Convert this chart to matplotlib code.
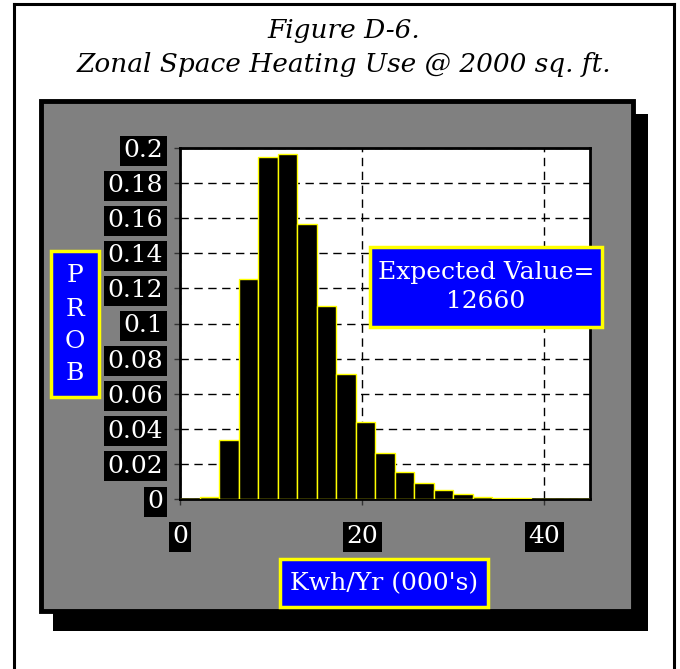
import matplotlib
matplotlib.use('Agg')
import matplotlib.pyplot as plt
from matplotlib.patches import Rectangle
from matplotlib.lines import Line2D

# histogram data (21 bins, 0..45 thousand kWh/yr)
bin_start = 0.0
bin_stop = 45.0
n_bins = 21
probs = [0.0002, 0.001, 0.0337, 0.1256, 0.1950, 0.1964, 0.1566, 0.1097,
         0.0710, 0.0437, 0.0262, 0.0154, 0.0089, 0.0051, 0.0028, 0.0013,
         0.0008, 0.0004, 0.0002, 0.0001, 0.0001]
y_ticks = [0, 0.02, 0.04, 0.06, 0.08, 0.1, 0.12, 0.14, 0.16, 0.18, 0.2]
y_tick_labels = ['0', '0.02', '0.04', '0.06', '0.08', '0.1', '0.12', '0.14', '0.16', '0.18', '0.2']
x_ticks = [0, 20, 40]
x_tick_labels = ['0', '20', '40']

W, H = 680, 669
fig = plt.figure(figsize=(W / 100, H / 100), dpi=100)
fig.patch.set_facecolor('white')


def fx(px):
    return px / W


def fy(py):
    return 1 - py / H


# outer frame
for xs, ys in [([14, 14], [4, H]), ([674, 674], [4, H]), ([14, 674], [4, 4])]:
    fig.add_artist(Line2D([fx(v) for v in xs], [fy(v) for v in ys], color='black', lw=2.2,
                          transform=fig.transFigure, zorder=-5))

# title
fig.text(fx(344), fy(38), 'Figure D-6.', ha='center', va='baseline',
         family='DejaVu Serif', style='italic', fontsize=19)
fig.text(fx(344), fy(72), 'Zonal Space Heating Use @ 2000 sq. ft.', ha='center', va='baseline',
         family='DejaVu Serif', style='italic', fontsize=19)

# shadow and gray panel
fig.add_artist(Rectangle((fx(53), fy(631)), fx(648 - 53), (631 - 114) / H,
                         facecolor='black', edgecolor='none', transform=fig.transFigure, zorder=-4))
fig.add_artist(Rectangle((fx(41), fy(611)), fx(633 - 41), (611 - 101) / H,
                         facecolor='#808080', edgecolor='black', lw=3.5, transform=fig.transFigure,
                         zorder=-3))

# plot area
ax = fig.add_axes([fx(180), fy(499), fx(590 - 180), (499 - 148) / H])
ax.set_zorder(1)
ax.set_facecolor('white')
width = (bin_stop - bin_start) / n_bins
lefts = [bin_start + i * width for i in range(n_bins)]
ax.bar(lefts, probs, width=width, align='edge', color='black', edgecolor='#ffff00', lw=1.0, zorder=3)
ax.set_xlim(bin_start, bin_stop)
ax.set_ylim(0, 0.2)
ax.set_yticks(y_ticks)
ax.set_yticklabels(y_tick_labels)
ax.set_xticks(x_ticks)
ax.set_xticklabels(x_tick_labels)
ax.grid(True, color='black', lw=1.0, linestyle=(0, (6, 4)), zorder=1)
for s in ax.spines.values():
    s.set_color('black')
    s.set_linewidth(2)
ax.tick_params(axis='y', direction='out', length=4, width=1, color='#333333', pad=8,
               labelcolor='white', labelsize=18)
ax.tick_params(axis='x', direction='out', length=4, width=1, color='#333333', pad=15,
               labelcolor='white', labelsize=18)
for lab in ax.get_yticklabels() + ax.get_xticklabels():
    lab.set_family('DejaVu Serif')
    lab.set_bbox(dict(facecolor='black', edgecolor='none', pad=2.5))

# expected value box
fig.add_artist(Rectangle((fx(370), fy(327)), fx(602 - 370), (327 - 247) / H,
                         facecolor='#0000ff', edgecolor='#ffff00', lw=2.5, transform=fig.transFigure,
                         zorder=5))
fig.text(fx(486), fy(272), 'Expected Value=', ha='center', va='center', color='white',
         family='DejaVu Serif', fontsize=18, zorder=6)
fig.text(fx(486), fy(302), '12660', ha='center', va='center', color='white',
         family='DejaVu Serif', fontsize=18, zorder=6)

# y label box
fig.add_artist(Rectangle((fx(51), fy(397)), fx(99 - 51), (397 - 251) / H,
                         facecolor='#0000ff', edgecolor='#ffff00', lw=2.5, transform=fig.transFigure,
                         zorder=5))
for ch, yy in zip('PROB', [275, 309, 342, 374]):
    fig.text(fx(75), fy(yy), ch, ha='center', va='center', color='white',
             family='DejaVu Serif', fontsize=18, zorder=6)

# x label box
fig.add_artist(Rectangle((fx(280), fy(607)), fx(488 - 280), (607 - 559) / H,
                         facecolor='#0000ff', edgecolor='#ffff00', lw=2.5, transform=fig.transFigure,
                         zorder=5))
fig.text(fx(384), fy(584), "Kwh/Yr (000's)", ha='center', va='center', color='white',
         family='DejaVu Serif', fontsize=18, zorder=6)

fig.savefig('out.png', dpi=100)
